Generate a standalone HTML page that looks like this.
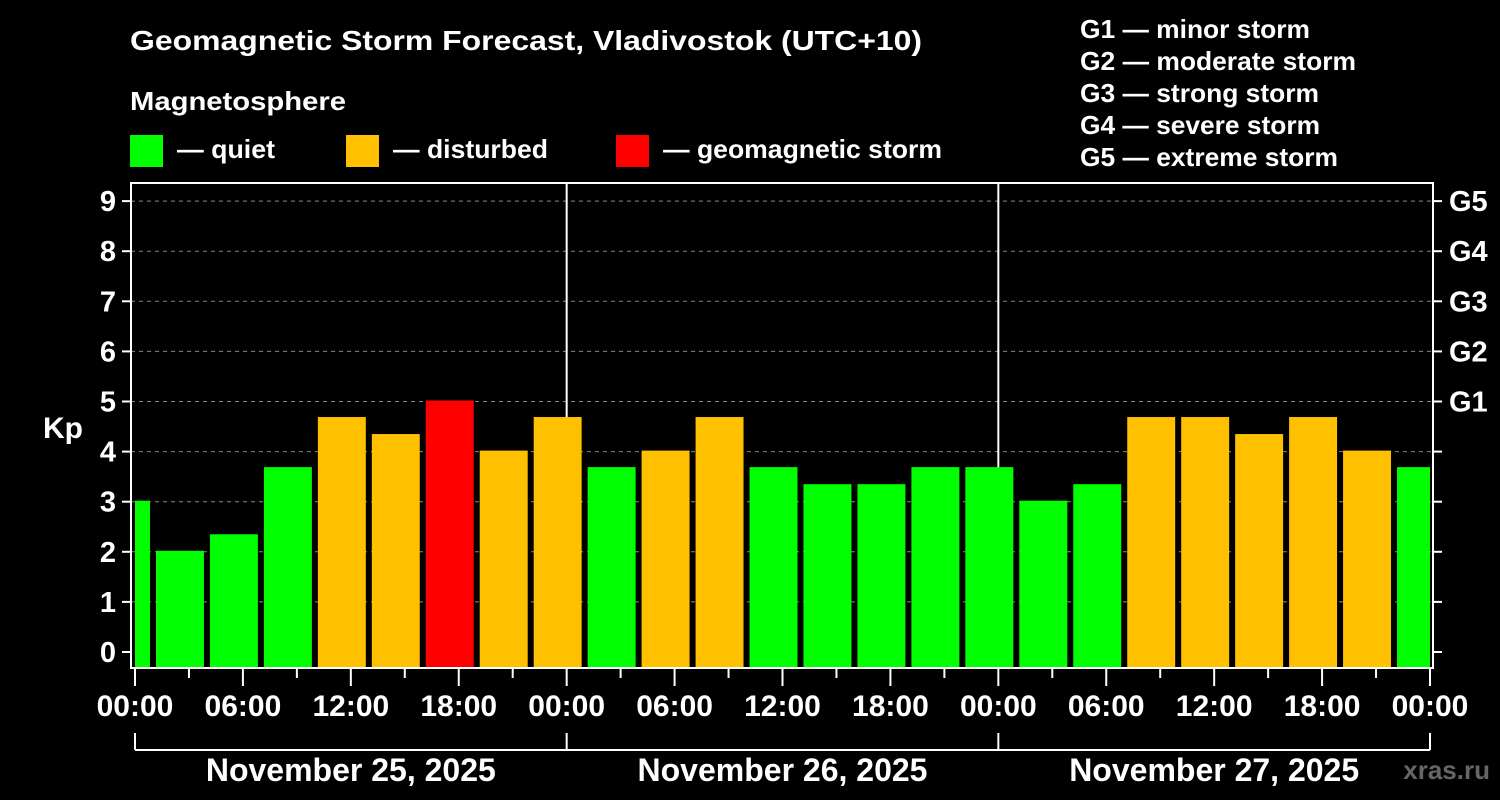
<!DOCTYPE html>
<html><head><meta charset="utf-8"><style>
body{margin:0;background:#000;}
svg{display:block;font-family:"Liberation Sans",Arial,sans-serif;font-weight:bold;}
</style></head><body>
<svg id="c" width="1500" height="800" viewBox="0 0 1500 800">
<rect width="1500" height="800" fill="#000"/>
<text x="130" y="50" fill="#fff" font-size="28" textLength="792" lengthAdjust="spacingAndGlyphs">Geomagnetic Storm Forecast, Vladivostok (UTC+10)</text>
<text x="130" y="110" fill="#fff" font-size="26" textLength="216" lengthAdjust="spacingAndGlyphs">Magnetosphere</text>
<g><rect x="130" y="135" width="33" height="32" fill="#00ff00"/><text x="177" y="158" fill="#fff" font-size="26" textLength="98" lengthAdjust="spacingAndGlyphs">— quiet</text></g>
<g><rect x="346" y="135" width="33" height="32" fill="#ffc000"/><text x="393" y="158" fill="#fff" font-size="26" textLength="155" lengthAdjust="spacingAndGlyphs">— disturbed</text></g>
<g><rect x="616" y="135" width="33" height="32" fill="#ff0000"/><text x="663" y="158" fill="#fff" font-size="26" textLength="279" lengthAdjust="spacingAndGlyphs">— geomagnetic storm</text></g>
<g fill="#fff" font-size="26">
<text x="1080" y="38" textLength="230" lengthAdjust="spacingAndGlyphs">G1 — minor storm</text>
<text x="1080" y="70" textLength="276" lengthAdjust="spacingAndGlyphs">G2 — moderate storm</text>
<text x="1080" y="102" textLength="239" lengthAdjust="spacingAndGlyphs">G3 — strong storm</text>
<text x="1080" y="134" textLength="240" lengthAdjust="spacingAndGlyphs">G4 — severe storm</text>
<text x="1080" y="166" textLength="258" lengthAdjust="spacingAndGlyphs">G5 — extreme storm</text>
</g>
<text x="63" y="438" fill="#fff" font-size="30" text-anchor="middle">Kp</text>
<g id="grid"></g><g id="bars"></g><g id="axes"></g>
<text x="1490" y="779" fill="#666" font-size="26" text-anchor="end">xras.ru</text>
</svg>
<script>
const kpValues=[3,2,2.33,3.67,4.67,4.33,5,4,4.67,3.67,4,4.67,3.67,3.33,3.33,3.67,3.67,3,3.33,4.67,4.67,4.33,4.67,4,3.67];
const yTicks=[0,1,2,3,4,5,6,7,8,9];
const gLabels=["G1","G2","G3","G4","G5"];
const gLevels=[5,6,7,8,9];
const xTickLabels=["00:00","06:00","12:00","18:00","00:00","06:00","12:00","18:00","00:00","06:00","12:00","18:00","00:00"];
const dayLabels=["November 25, 2025","November 26, 2025","November 27, 2025"];
const startHour=-2, stepHours=3, totalHours=72;
const NS="http://www.w3.org/2000/svg";
const X0=135,X1=1430,Y0=652,YU=50.1;
const xs=h=>X0+(X1-X0)*h/totalHours;
const ys=v=>Y0-v*YU;
function mk(p,t,a){const e=document.createElementNS(NS,t);for(const k in a)e.setAttribute(k,a[k]);p.appendChild(e);return e;}
const grid=document.getElementById('grid'),bars=document.getElementById('bars'),axes=document.getElementById('axes');
yTicks.forEach(v=>{if(v>0){const l=mk(grid,'line',{x1:131,x2:1433,y1:ys(v),y2:ys(v),stroke:'#888','stroke-dasharray':'4,4','stroke-width':1});

}});
kpValues.forEach((v,i)=>{const h0=startHour+i*stepHours;let a=xs(h0)+3,b=xs(h0+stepHours)-3;a=Math.max(a,X0);b=Math.min(b,X1);
const c=v>=5?'#ff0000':(v>=4?'#ffc000':'#00ff00');
const r=mk(bars,'rect',{x:a,y:ys(v)-1,width:b-a,height:669-ys(v),fill:c});

});
[24,48].forEach(h=>{const l=mk(grid,'line',{x1:xs(h),x2:xs(h),y1:183,y2:668,stroke:'#fff','stroke-width':2});

});
const fr=mk(axes,'rect',{x:131,y:183,width:1302,height:485,fill:'none',stroke:'#fff','stroke-width':2});


yTicks.forEach(v=>{mk(axes,'line',{x1:122,x2:131,y1:ys(v),y2:ys(v),stroke:'#fff','stroke-width':2});
mk(axes,'line',{x1:1433,x2:1442,y1:ys(v),y2:ys(v),stroke:'#fff','stroke-width':2});
const t=mk(axes,'text',{x:116,y:ys(v)+10,fill:'#fff','font-size':29,'text-anchor':'end'});t.textContent=v;

});
gLevels.forEach((v,i)=>{const t=mk(axes,'text',{x:1449,y:ys(v)+10,fill:'#fff','font-size':29});t.textContent=gLabels[i];

});
for(let h=0;h<=totalHours;h+=3){const maj=h%6===0;mk(axes,'line',{x1:xs(h),x2:xs(h),y1:668,y2:maj?686:678,stroke:'#fff','stroke-width':2});}
xTickLabels.forEach((s,i)=>{const t=mk(axes,'text',{x:xs(i*6),y:716,fill:'#fff','font-size':30,'text-anchor':'middle'});t.textContent=s;

});
mk(axes,'line',{x1:X0,x2:X1,y1:750,y2:750,stroke:'#fff','stroke-width':2});
[0,24,48,72].forEach(h=>mk(axes,'line',{x1:xs(h),x2:xs(h),y1:733,y2:750,stroke:'#fff','stroke-width':2}));
dayLabels.forEach((s,i)=>{const t=mk(axes,'text',{x:xs(i*24+12),y:781,fill:'#fff','font-size':32,'text-anchor':'middle'});t.textContent=s;

});
</script>
</body></html>
